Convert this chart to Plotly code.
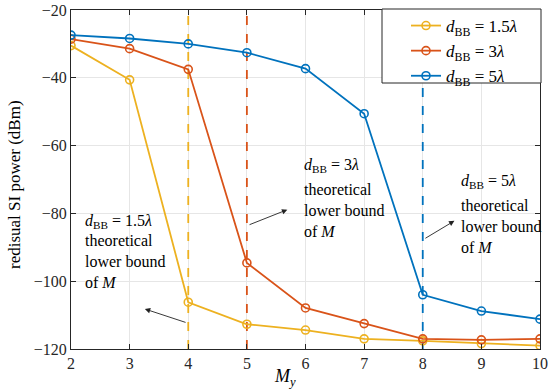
import plotly.graph_objects as go

M = [2, 3, 4, 5, 6, 7, 8, 9, 10]
si_15 = [-30.5, -40.6, -106.2, -112.7, -114.4, -117.0, -117.6, -118.4, -119.0]
si_3 = [-28.6, -31.4, -37.5, -94.6, -107.9, -112.5, -117.0, -117.3, -117.0]
si_5 = [-27.4, -28.4, -30.0, -32.6, -37.3, -50.6, -104.0, -108.8, -111.2]
names = ["<i>d</i><sub>BB</sub> = 1.5<i>λ</i>", "<i>d</i><sub>BB</sub> = 3<i>λ</i>", "<i>d</i><sub>BB</sub> = 5<i>λ</i>"]
colors = ["#EDB120", "#D95319", "#0072BD"]
bounds = [4, 5, 8]
y_range = [-120, -20]
y_ticks = [-120, -100, -80, -60, -40, -20]

FONT = "Liberation Serif"
W, H = 550, 391
L, T, R, B = 71, 10, 10, 42
PW, PH = W - L - R, H - T - B

def px_x(p):
    return (p - L) / PW

def px_y(p):
    return 1 - (p - T) / PH

fig = go.Figure()
for b, c in zip(bounds, colors):
    fig.add_trace(go.Scatter(x=[b, b], y=y_range, mode="lines", showlegend=False, hoverinfo="skip",
                             line=dict(color=c, width=1.8, dash="dash")))
for ys, nm, c in zip([si_15, si_3, si_5], names, colors):
    fig.add_trace(go.Scatter(x=M, y=ys, name=nm, mode="lines+markers",
                             line=dict(color=c, width=1.8),
                             marker=dict(symbol="circle-open", size=8, color=c, line=dict(width=1.6))))

labels = [
    (2.2, -82.5, -94.3, "<i>d</i><sub>BB</sub> = 1.5<i>λ</i>"),
    (5.94, -66.0, -79.0, "<i>d</i><sub>BB</sub> = 3<i>λ</i>"),
    (8.62, -70.7, -84.0, "<i>d</i><sub>BB</sub> = 5<i>λ</i>"),
]
for x, y1, y2, t in labels:
    fig.add_annotation(x=x, y=y1, text=t, showarrow=False, xanchor="left", yanchor="middle",
                       font=dict(size=16, color="black", family=FONT))
    fig.add_annotation(x=x, y=y2, text="theoretical<br>lower bound<br>of <i>M</i>", showarrow=False,
                       xanchor="left", yanchor="middle", align="left",
                       font=dict(size=16, color="black", family=FONT))

arrows = [((3.98, -112.3), (3.26, -108.2)), ((5.02, -83.5), (5.69, -78.9)), ((8.02, -87.6), (8.54, -82.2))]
for (tx, ty), (hx, hy) in arrows:
    fig.add_annotation(x=hx, y=hy, ax=tx, ay=ty, axref="x", ayref="y", xref="x", yref="y",
                       text="", showarrow=True, arrowhead=2, arrowsize=1.2, arrowwidth=0.9,
                       arrowcolor="#222222")

# axis titles as annotations (pixel-placed)
fig.add_annotation(x=px_x(285), y=px_y(377), xref="paper", yref="paper",
                   text="<i>M<sub>y</sub></i>", showarrow=False, xanchor="center", yanchor="middle",
                   font=dict(size=18, color="black", family=FONT))
fig.add_annotation(x=px_x(15), y=px_y(185), xref="paper", yref="paper",
                   text="redisual SI power (dBm)", textangle=-90, showarrow=False,
                   xanchor="center", yanchor="middle",
                   font=dict(size=17, color="black", family=FONT))

# legend box (padded like the reference)
fig.add_shape(type="rect", xref="paper", yref="paper", x0=px_x(382), x1=px_x(541),
              y0=px_y(83), y1=px_y(9), fillcolor="white", line=dict(color="#262626", width=1),
              layer="above")

axis_common = dict(showline=True, linecolor="#262626", linewidth=1, mirror="ticks",
                   ticks="inside", ticklen=5, tickcolor="#262626",
                   showgrid=True, gridcolor="#e6e6e6", gridwidth=1, zeroline=False,
                   tickfont=dict(size=16, color="#262626", family=FONT))
fig.update_xaxes(range=[2, 10], tickvals=M, ticktext=[str(m) for m in M], **axis_common)
fig.update_yaxes(range=y_range, tickvals=y_ticks,
                 ticktext=[str(v).replace("-", "−") for v in y_ticks], **axis_common)
fig.update_layout(
    width=W, height=H, margin=dict(l=L, r=R, t=T, b=B, autoexpand=False),
    plot_bgcolor="white", paper_bgcolor="white",
    font=dict(family=FONT, color="black"),
    legend=dict(x=px_x(406), y=px_y(8), xanchor="left", yanchor="top", bgcolor="rgba(0,0,0,0)",
                borderwidth=0, font=dict(size=17, family=FONT),
                itemwidth=30, tracegroupgap=0),
)
fig.write_html("out.html", config={"displayModeBar": False},
               post_script="document.body.style.margin='0';document.body.style.overflow='hidden';")
